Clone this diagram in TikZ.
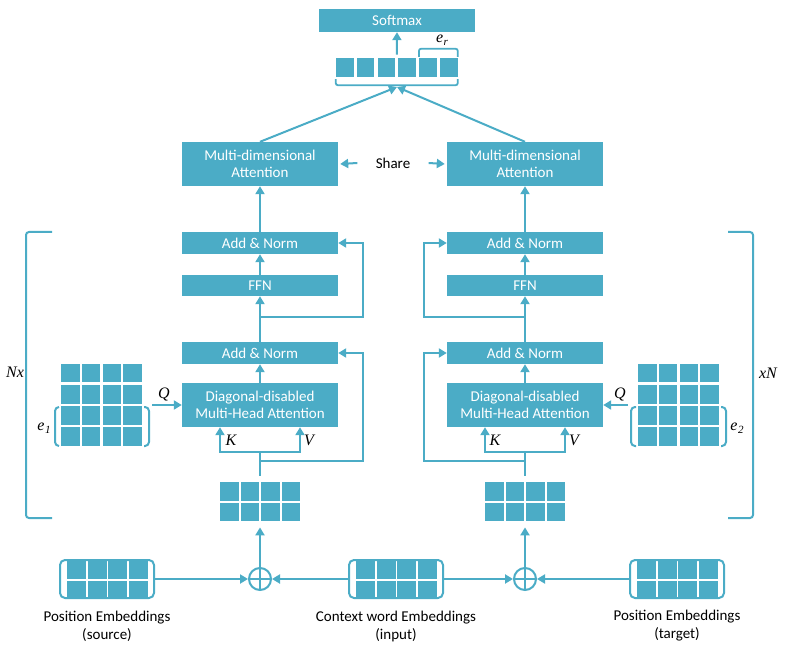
\documentclass[tikz,border=0pt]{standalone}
\usepackage{fontspec}
\setmainfont{Carlito}
\newfontfamily\tnr{Liberation Serif}
\usepackage{tikz}
\usetikzlibrary{arrows.meta, fit}
\definecolor{blu}{HTML}{4BACC6}
\tikzset{
  box/.style={fill=blu, text=white, minimum width=156pt, inner sep=0pt, align=center, font=\fontsize{15}{17.5}\selectfont},
  cell/.style={fill=blu, minimum size=18.5pt, inner sep=0pt},
  arr/.style={draw=blu, line width=2pt, -{Triangle[length=8pt,width=9pt]}},
  line/.style={draw=blu, line width=2pt},
  lbl/.style={font=\fontsize{15}{18}\selectfont, align=center, inner sep=0pt},
  var/.style={font=\tnr\itshape\fontsize{16}{18}\selectfont, inner sep=0pt},
  plus/.style={draw=blu, line width=2pt, circle, minimum size=22pt, inner sep=0pt},
  embed/.style={draw=blu, line width=2pt, rounded corners=5pt, minimum width=94pt, minimum height=38pt, inner sep=0pt},
}
\newcommand{\sub}[2]{#1\kern.5pt\raisebox{-.45ex}{\fontsize{11}{11}\selectfont #2}}

\begin{document}
\begin{tikzpicture}[x=1pt, y=-1pt]
\useasboundingbox (0,0) rectangle (788,647);

% output layer
\node[box, minimum height=23pt] (softmax) at (397,20.5) {Softmax};
\foreach \i in {1,...,6} {
  \node[cell, minimum width=17.5pt, minimum height=19pt] (v-\i) at ({344.75+(\i-1)*20.8}, 67.5) {};
}
\node[fit=(v-1)(v-6), inner sep=0pt] (vec) {};
\draw[arr] ([yshift=3pt]vec.north) -- (softmax.south);
\draw[line, line width=1.8pt, rounded corners=2pt] ([yshift=1pt]v-5.north west) -- ++(0,-8) -| ([yshift=1pt]v-6.north east);
\node[var] (er) at (442,40) {\sub{e}{r}};
\draw[line, line width=1.8pt, rounded corners=2pt] ([yshift=-2pt]v-1.south west) -- ++(0,6) -| ([yshift=-2pt]v-6.south east);
\coordinate (join) at (397,87);

% attention on top
\node[box, minimum height=44pt] (mdaL) at (260,164) {Multi-dimensional\\Attention};
\node[box, minimum height=44pt] (mdaR) at (525,164) {Multi-dimensional\\Attention};
\draw[arr] (mdaL.north) -- (join);
\draw[arr] (mdaR.north) -- (join);
\node[lbl, minimum width=71pt] (share) at (393,163) {Share};
\draw[arr] (share.west) -- ([xshift=2pt]mdaL.east);
\draw[arr] (share.east) -- ([xshift=-2pt]mdaR.west);

% encoder columns
\foreach \s/\cx in {L/260, R/525} {
  \node[box, minimum height=22pt] (an\s2) at (\cx,243) {Add \& Norm};
  \node[box, minimum height=21pt] (ffn\s) at (\cx,285.5) {FFN};
  \node[box, minimum height=22pt] (an\s1) at (\cx,353) {Add \& Norm};
  \node[box, minimum height=44pt] (mha\s) at (\cx,405) {Diagonal-disabled\\Multi-Head Attention};
  \draw[arr] (an\s2.north) -- (mda\s.south);
  \draw[arr] (ffn\s.north) -- (an\s2.south);
  \draw[arr] (an\s1.north) -- (ffn\s.south);
  \draw[arr] (mha\s.north) -- (an\s1.south);
  \coordinate (res\s2) at (\cx,317);
  \coordinate (res\s1) at (\cx,461);
  \coordinate (kv\s) at (\cx,452);
  \draw[arr] (kv\s) -| ([xshift=-40pt]mha\s.south);
  \draw[arr] (kv\s) -| ([xshift=40pt]mha\s.south);
}
\draw[arr] (resL2) -- ++(103,0) |- (anL2.east);
\draw[arr] (resL1) -- ++(103,0) |- (anL1.east);
\draw[arr] (resR2) -- ++(-101,0) |- (anR2.west);
\draw[arr] (resR1) -- ++(-101,0) |- (anR1.west);
\node[var] (kL) at (231,440) {K};
\node[var] (vL) at (309,440) {V};
\node[var] (kR) at (495,440) {K};
\node[var] (vR) at (574,440) {V};

% query matrices
\foreach \s/\x in {L/61, R/638} {
  \foreach \r in {1,...,4} {
    \foreach \c in {1,...,4} {
      \node[cell] (e\s-\r-\c) at ({\x+9.25+(\c-1)*20.8}, {364+9.25+(\r-1)*21}) {};
    }
  }
}
\draw[line, rounded corners=4pt] (59,407) -- (55,407) -- (55,446) -- (59,446);
\draw[line, rounded corners=4pt] (144,407) -- (149,407) -- (149,446) -- (144,446);
\draw[line, rounded corners=4pt] (636,407) -- (631,407) -- (631,446) -- (636,446);
\draw[line, rounded corners=4pt] (721,407) -- (726,407) -- (726,446) -- (721,446);
\node[var] (e1) at (44,428) {\sub{e}{1}};
\node[var] (e2) at (737,428) {\sub{e}{2}};
\coordinate (qL) at (152,405);
\coordinate (qR) at (628,405);
\draw[arr] (qL) -- (mhaL.west);
\draw[arr] (qR) -- (mhaR.east);
\node[var] (qLl) at (164,395) {Q};
\node[var] (qRl) at (620,395) {Q};

% layer brackets
\draw[line, rounded corners=3pt] (52,232) -- (26,232) -- (26,518) -- (52,518);
\draw[line, rounded corners=3pt] (728,232) -- (753,232) -- (753,518) -- (728,518);
\node[var] (nxL) at (15,372) {Nx};
\node[var] (nxR) at (768,373) {xN};

% summed embeddings
\foreach \s/\x in {L/220, R/485} {
  \foreach \r in {1,2} {
    \foreach \c in {1,...,4} {
      \node[cell] (g\s-\r-\c) at ({\x+9.25+(\c-1)*20.5}, {482+9.25+(\r-1)*20.5}) {};
    }
  }
  \node[fit=(g\s-1-1)(g\s-2-4), inner sep=0pt] (grid\s) {};
}
\draw[line] ([yshift=6pt]gridL.north) -- (kvL);
\draw[line] ([yshift=6pt]gridR.north) -- (kvR);

% input embeddings
\foreach \nm/\cx/\txt in {posS/107/{Position Embeddings\\(source)}, ctx/396/{Context word Embeddings\\(input)}, posT/677/{Position Embeddings\\(target)}} {
  \node[embed] (\nm) at (\cx,579) {};
  \foreach \r in {1,2} {
    \foreach \c in {1,...,4} {
      \node[cell, minimum width=19pt] (\nm-\r-\c) at ({\cx-40+9.5+(\c-1)*20.7}, {569.25+(\r-1)*20.5}) {};
    }
  }
  \node[lbl] (\nm-t) at (\cx,626) {\txt};
}
\node[plus] (plusL) at (260,579) {};
\node[plus] (plusR) at (525,579) {};
\foreach \p in {plusL, plusR} {
  \draw[line] (\p.north) -- (\p.south);
  \draw[line] (\p.west) -- (\p.east);
}
\draw[arr] (posS.east) -- (plusL.west);
\draw[arr] (ctx.west) -- (plusL.east);
\draw[arr] (ctx.east) -- (plusR.west);
\draw[arr] (posT.west) -- (plusR.east);
\draw[arr] (plusL.north) -- ([yshift=-6pt]gridL.south);
\draw[arr] (plusR.north) -- ([yshift=-6pt]gridR.south);
\end{tikzpicture}
\end{document}
